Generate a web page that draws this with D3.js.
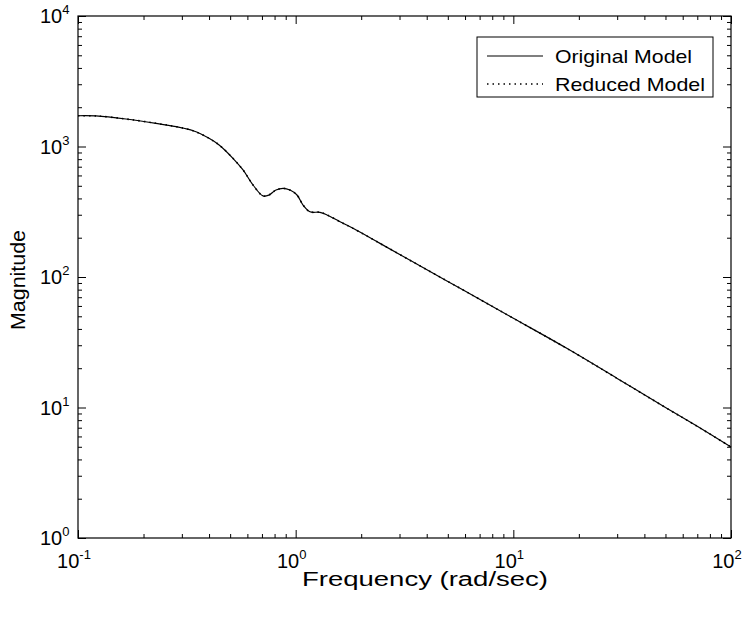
<!DOCTYPE html>
<html>
<head>
<meta charset="utf-8">
<script src="https://cdn.jsdelivr.net/npm/d3@7/dist/d3.min.js"></script>
<style>
  body { margin: 0; background: #fff; }
  text { font-family: "Liberation Sans", Arial, Helvetica, sans-serif; fill: #000; }
</style>
</head>
<body>
<div id="chart"></div>
<script>
// frequenze (rad/sec)
const freq = [0.1, 0.121, 0.166, 0.228, 0.282, 0.338, 0.40, 0.445, 0.515, 0.573,
  0.637, 0.708, 0.754, 0.812, 0.875, 0.942, 1.014, 1.081, 1.163, 1.293,
  1.393, 1.599, 1.834, 2.44, 3.5, 5, 7, 10, 17.6, 30, 50, 70, 100];

// modello originale
const magOriginal = [1720, 1714, 1625, 1506, 1418, 1321, 1156, 1027, 812, 661,
  507, 418, 425, 464, 478, 464, 425, 356, 316, 313,
  299, 265, 236, 181, 129, 92.5, 67.5, 48.3, 28.4, 16.7, 10.0, 7.17, 4.98];

// modello ridotto (si sovrappone all'originale)
const magReduced = [1720, 1714, 1625, 1506, 1418, 1321, 1156, 1027, 812, 661,
  507, 418, 425, 464, 478, 464, 425, 356, 316, 313,
  299, 265, 236, 181, 129, 92.5, 67.5, 48.3, 28.4, 16.7, 10.0, 7.17, 4.98];

const xDecades = [0.1, 1, 10, 100];
const xExponents = ["-1", "0", "1", "2"];
const yDecades = [1, 10, 100, 1000, 10000];
const yExponents = ["0", "1", "2", "3", "4"];
const legendLabels = ["Original Model", "Reduced Model"];

const width = 751;
const height = 618;
const margin = { top: 16, right: 20, bottom: 80, left: 78 };

const svg = d3.select("#chart").append("svg")
  .attr("width", width)
  .attr("height", height);

const x = d3.scaleLog()
  .domain([0.1, 100])
  .range([margin.left, width - margin.right]);

const y = d3.scaleLog()
  .domain([1, 10000])
  .range([height - margin.bottom, margin.top]);

const x0 = x.range()[0], x1 = x.range()[1];
const y0 = y.range()[1], y1 = y.range()[0];

// tick minori e maggiori
const xMinor = x.ticks().filter(d => !xDecades.some(v => Math.abs(v - d) < 1e-9));
const yMinor = y.ticks().filter(d => !yDecades.some(v => Math.abs(v - d) < 1e-9));

function drawAxis(axisFn, scale, values, size, transform) {
  svg.append("g")
    .attr("transform", transform)
    .call(axisFn(scale).tickValues(values).tickSize(size).tickSizeOuter(0).tickFormat(""))
    .call(g => g.select(".domain").remove())
    .call(g => g.selectAll("line").attr("stroke", "#000").attr("stroke-width", 1));
}

// tick verso l'interno su tutti e quattro i lati
drawAxis(d3.axisBottom, x, xMinor, -4, `translate(0,${y1})`);
drawAxis(d3.axisBottom, x, xDecades, -8, `translate(0,${y1})`);
drawAxis(d3.axisTop, x, xMinor, -4, `translate(0,${y0})`);
drawAxis(d3.axisTop, x, xDecades, -8, `translate(0,${y0})`);
drawAxis(d3.axisLeft, y, yMinor, -4, `translate(${x0},0)`);
drawAxis(d3.axisLeft, y, yDecades, -8, `translate(${x0},0)`);
drawAxis(d3.axisRight, y, yMinor, -4, `translate(${x1},0)`);
drawAxis(d3.axisRight, y, yDecades, -8, `translate(${x1},0)`);

// riquadro
svg.append("rect")
  .attr("x", x0).attr("y", y0)
  .attr("width", x1 - x0).attr("height", y1 - y0)
  .attr("fill", "none").attr("stroke", "#000").attr("stroke-width", 1.2);

// etichette asse x
xDecades.forEach((d, i) => {
  const t = svg.append("text")
    .attr("x", x(d) - 4)
    .attr("y", y1 + 30)
    .attr("text-anchor", "middle")
    .attr("font-size", 20);
  t.append("tspan").text("10");
  t.append("tspan").attr("font-size", 13).attr("dy", -9).text(xExponents[i]);
});

// etichette asse y
yDecades.forEach((d, i) => {
  const t = svg.append("text")
    .attr("x", 40)
    .attr("y", y(d) + 7)
    .attr("font-size", 20);
  t.append("tspan").text("10");
  t.append("tspan").attr("font-size", 13).attr("dy", -9).text(yExponents[i]);
});

// titoli degli assi
svg.append("text")
  .attr("x", 302)
  .attr("y", 586)
  .attr("font-size", 20)
  .attr("textLength", 246)
  .attr("lengthAdjust", "spacingAndGlyphs")
  .text("Frequency (rad/sec)");

svg.append("text")
  .attr("transform", "translate(25,280) rotate(-90)")
  .attr("text-anchor", "middle")
  .attr("font-size", 20)
  .attr("textLength", 100)
  .attr("lengthAdjust", "spacingAndGlyphs")
  .text("Magnitude");

// curve
const line = d3.line()
  .x(d => x(d[0]))
  .y(d => y(d[1]))
  .curve(d3.curveCatmullRom.alpha(0.5));

svg.append("path")
  .datum(freq.map((f, i) => [f, magOriginal[i]]))
  .attr("d", line)
  .attr("fill", "none")
  .attr("stroke", "#000")
  .attr("stroke-width", 1.2);

svg.append("path")
  .datum(freq.map((f, i) => [f, magReduced[i]]))
  .attr("d", line)
  .attr("fill", "none")
  .attr("stroke", "#000")
  .attr("stroke-width", 1.6)
  .attr("stroke-dasharray", "1.5,4");

// legenda
const legend = svg.append("g");
legend.append("rect")
  .attr("x", 477).attr("y", 37)
  .attr("width", 236).attr("height", 60)
  .attr("fill", "#fff").attr("stroke", "#000").attr("stroke-width", 1);

const legendY = [56, 84];
const legendLen = [137, 150];
legendLabels.forEach((lab, i) => {
  legend.append("line")
    .attr("x1", 487).attr("x2", 543)
    .attr("y1", legendY[i]).attr("y2", legendY[i])
    .attr("stroke", "#000")
    .attr("stroke-width", i === 0 ? 1.2 : 1.6)
    .attr("stroke-dasharray", i === 0 ? null : "1.5,4");
  legend.append("text")
    .attr("x", 555)
    .attr("y", legendY[i] + 7)
    .attr("font-size", 19)
    .attr("textLength", legendLen[i])
    .attr("lengthAdjust", "spacingAndGlyphs")
    .text(lab);
});
</script>
</body>
</html>
